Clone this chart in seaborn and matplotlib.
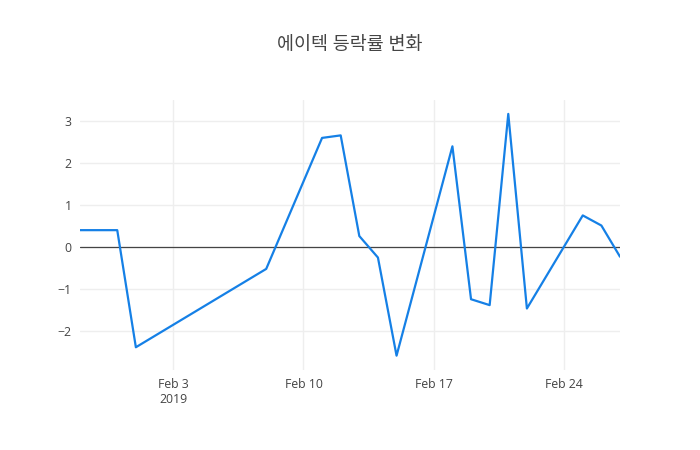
import pandas as pd
import seaborn as sns
import matplotlib.pyplot as plt
import matplotlib.dates as mdates

# 데이터
dates = ["2019-01-29", "2019-01-31", "2019-02-01", "2019-02-08", "2019-02-11",
         "2019-02-12", "2019-02-13", "2019-02-14", "2019-02-15", "2019-02-18",
         "2019-02-19", "2019-02-20", "2019-02-21", "2019-02-22", "2019-02-25",
         "2019-02-26", "2019-02-27"]
changes = [0.40, 0.40, -2.38, -0.52, 2.59, 2.65, 0.26, -0.25, -2.58, 2.39,
           -1.24, -1.38, 3.16, -1.46, 0.75, 0.51, -0.23]
tick_dates = ["2019-02-03", "2019-02-10", "2019-02-17", "2019-02-24"]
tick_labels = ["Feb 3\n2019", "Feb 10", "Feb 17", "Feb 24"]
title = "에이텍 등락률 변화"

df = pd.DataFrame({"date": pd.to_datetime(dates), "change": changes})

sns.set_theme(style="white")
plt.rcParams['font.family'] = ['Open Sans', 'Noto Sans CJK KR', 'DejaVu Sans']

fig = plt.figure(figsize=(7, 4.5), dpi=100)
ax = fig.add_axes([80 / 700, 80 / 450, 540 / 700, 270 / 450])

sns.lineplot(data=df, x="date", y="change", ax=ax, color="#1580e6", linewidth=1.6)

ax.set_xlim(df["date"].min(), df["date"].max())
ax.set_ylim(-2.92, 3.49)
ax.set_yticks([-2, -1, 0, 1, 2, 3])
ax.set_xticks(pd.to_datetime(tick_dates))
ax.set_xticklabels(tick_labels)

ax.grid(True, color="#eeeeee", linewidth=1)
ax.axhline(0, color="#444444", linewidth=0.9, zorder=1)
for s in ax.spines.values():
    s.set_visible(False)
ax.tick_params(axis="both", length=0, labelsize=8.8, colors="#444444", pad=6)
ax.set_xlabel("")
ax.set_ylabel("")

fig.text(0.5, 1 - 45 / 450, title, ha="center", va="center", fontsize=13.3, color="#444444")

fig.savefig("out.png", dpi=100, facecolor="white")
